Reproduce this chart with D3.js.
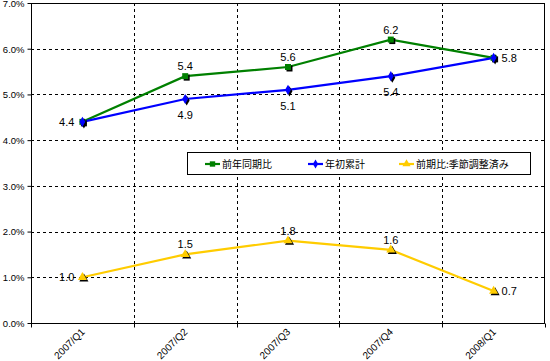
<!DOCTYPE html>
<html><head><meta charset="utf-8">
<script src="https://cdn.jsdelivr.net/npm/d3@7"></script>
<style>body{margin:0;background:#fff}svg{display:block}</style>
</head><body>
<svg id="c" width="550" height="361"></svg>
<script>
const categories = ["2007/Q1","2007/Q2","2007/Q3","2007/Q4","2008/Q1"];
const yoy = [4.4, 5.4, 5.6, 6.2, 5.8];
const ytd = [4.4, 4.9, 5.1, 5.4, 5.8];
const qoq = [1.0, 1.5, 1.8, 1.6, 0.7];
const yTicks = [0,1,2,3,4,5,6,7];
const seriesNames = ["前年同期比","年初累計","前期比:季節調整済み"];

const svg = d3.select("#c");
const L=31, R=545, T=3, B=323;
const x = d3.scaleBand().domain(categories).range([L,R]);
const y = d3.scaleLinear().domain([0,7]).range([B,T]);
const cx = c => x(c)+x.bandwidth()/2;

svg.append("g").selectAll("line").data(yTicks.filter(t=>t>0&&t<7)).join("line")
  .attr("x1",L).attr("x2",R).attr("y1",d=>Math.round(y(d))+0.5).attr("y2",d=>Math.round(y(d))+0.5)
  .attr("stroke","#000").attr("stroke-dasharray","3,3");
svg.append("g").selectAll("line").data(categories.slice(1)).join("line")
  .attr("x1",d=>Math.round(x(d))+0.5).attr("x2",d=>Math.round(x(d))+0.5).attr("y1",T).attr("y2",B)
  .attr("stroke","#000").attr("stroke-dasharray","3,3");
svg.append("rect").attr("x",L+0.5).attr("y",T+0.5).attr("width",R-L-1).attr("height",B-T)
  .attr("fill","none").attr("stroke","#000").attr("stroke-width",1);

const ya = svg.append("g").attr("transform",`translate(${L+0.5},0)`)
  .call(d3.axisLeft(y).tickValues(yTicks).tickSize(4).tickFormat(d=>d.toFixed(1)+"%"));
ya.select(".domain").remove();
ya.selectAll("line").attr("stroke","#000");
ya.selectAll("text").attr("font-family","Liberation Sans, Arial").attr("font-size","9.5px").attr("fill","#000").attr("x",-7).attr("dy","0.35em");

const xa = svg.append("g").attr("transform",`translate(0,${B+0.5})`);
const bounds = categories.map(c=>x(c)).concat([R]);
xa.selectAll("line").data(bounds).join("line")
  .attr("x1",d=>Math.round(d)+0.5).attr("x2",d=>Math.round(d)+0.5).attr("y1",0).attr("y2",4).attr("stroke","#000");
xa.selectAll("text").data(categories).join("text")
  .attr("transform",d=>`translate(${cx(d)+3},${9}) rotate(-45)`)
  .attr("text-anchor","end").attr("font-family","Liberation Sans, Arial").attr("font-size","10px").attr("fill","#000")
  .text(d=>d);

const series = [
  {name:seriesNames[0], vals:yoy, color:"#008000", marker:"square", pos:["left","above","above","above","right"]},
  {name:seriesNames[1], vals:ytd, color:"#0000FF", marker:"diamond", pos:[null,"below","below","below",null]},
  {name:seriesNames[2], vals:qoq, color:"#FFCC00", marker:"triangle", pos:["left","above","above","above","right"]},
];
const sym = {square:d3.symbolSquare, diamond:d3.symbolDiamond, triangle:d3.symbolTriangle};
const size = {square:36, diamond:30, triangle:36};
const line = d3.line().x((d,i)=>cx(categories[i])).y(d=>y(d));

[series[2], series[0], series[1]].forEach(s=>{
  svg.append("path").datum(s.vals).attr("d",line).attr("fill","none").attr("stroke",s.color).attr("stroke-width",2.2);
});
[series[2], series[0], series[1]].forEach(s=>{
  const g = svg.append("g");
  g.selectAll("path.sh").data(s.vals).join("path")
    .attr("transform",(d,i)=>`translate(${cx(categories[i])+1.5},${y(d)+1.5})`)
    .attr("d",d3.symbol(sym[s.marker],size[s.marker])).attr("fill","#000");
  g.selectAll("path.mk").data(s.vals).join("path")
    .attr("transform",(d,i)=>`translate(${cx(categories[i])},${y(d)})`)
    .attr("d",d3.symbol(sym[s.marker],size[s.marker])).attr("fill",s.color);
});
series.forEach(s=>{
  const items = s.vals.map((v,i)=>({v, c:cx(categories[i]), p:s.pos[i]})).filter(o=>o.p);
  svg.append("g").selectAll("text").data(items).join("text")
    .attr("x",o=>o.p==="left"?o.c-8:o.p==="right"?o.c+8:o.c)
    .attr("y",o=>o.p==="above"?y(o.v)-6:o.p==="below"?y(o.v)+20:y(o.v)+4)
    .attr("text-anchor",o=>o.p==="left"?"end":o.p==="right"?"start":"middle")
    .attr("font-family","Liberation Sans, Arial").attr("font-size","11px").attr("fill","#000")
    .text(o=>o.v.toFixed(1));
});

const lg = svg.append("g");
lg.append("rect").attr("x",187.5).attr("y",152.5).attr("width",343).attr("height",22).attr("fill","#fff").attr("stroke","#000");
const lx = [205, 308, 399];
series.forEach((s,i)=>{
  const g = lg.append("g").attr("transform",`translate(${lx[i]},164)`);
  g.append("line").attr("x1",0).attr("x2",15).attr("y1",0).attr("y2",0).attr("stroke",s.color).attr("stroke-width",2.2);
  g.append("path").attr("transform","translate(7.5,0)").attr("d",d3.symbol(sym[s.marker],size[s.marker]*0.8)).attr("fill",s.color);
  g.append("text").attr("x",17).attr("y",4).attr("font-family","Noto Sans CJK JP").attr("font-size","10px").attr("fill","#000").text(s.name);
});
</script>
</body></html>
